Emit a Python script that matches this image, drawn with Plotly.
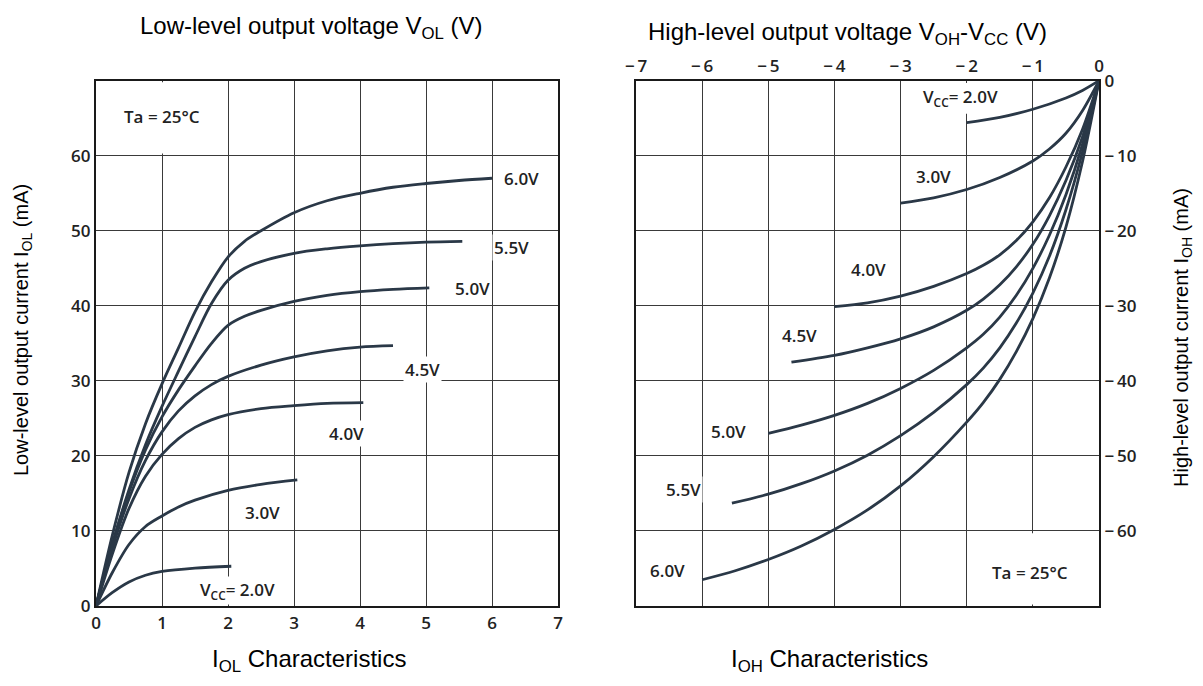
import plotly.graph_objects as go

# page has an 8px body margin, so the figure is sized to fit the 1203x686 window
FW, FH = 1203 - 16, 686 - 16
OFF = 8

# ---------------- Left chart data: I_OL vs V_OL ----------------
v60 = [0, 0.25, 0.5, 0.75, 1.0, 1.25, 1.5, 1.75, 2.0, 2.25, 2.5, 3.0, 3.5, 4.0, 4.5, 5.0, 5.5, 6.0]
i60 = [0, 9.5, 17.8, 24.3, 29.6, 34.4, 39.2, 43.2, 46.5, 48.6, 50.0, 52.4, 54, 55, 55.8, 56.3, 56.7, 57.0]
v55 = [0, 0.25, 0.5, 0.75, 1.0, 1.25, 1.5, 1.75, 2.0, 2.25, 2.5, 3.0, 3.5, 4.0, 4.5, 5.0, 5.55]
i55 = [0, 8.3, 15.5, 21.5, 26.6, 31.3, 35.9, 40.3, 43.4, 45.0, 45.9, 47.0, 47.6, 48.0, 48.3, 48.5, 48.6]
v50 = [0, 0.25, 0.5, 0.75, 1.0, 1.25, 1.5, 1.75, 2.0, 2.25, 2.5, 3.0, 3.5, 4.0, 4.5, 5.05]
i50 = [0, 8.3, 15.2, 20.8, 25.2, 28.8, 32.0, 35.0, 37.4, 38.6, 39.4, 40.6, 41.4, 41.9, 42.2, 42.4]
v45 = [0, 0.25, 0.5, 0.75, 1.0, 1.25, 1.5, 1.75, 2.0, 2.5, 3.0, 3.5, 4.0, 4.5]
i45 = [0, 7.8, 14.3, 19.4, 23.2, 26.0, 28.0, 29.5, 30.6, 32.1, 33.2, 34, 34.5, 34.7]
v40 = [0, 0.25, 0.5, 0.75, 1.0, 1.25, 1.5, 1.75, 2.0, 2.5, 3.0, 3.5, 4.05]
i40 = [0, 7, 13, 17.3, 20.2, 22.3, 23.8, 24.8, 25.5, 26.3, 26.7, 27.0, 27.1]
v30 = [0, 0.25, 0.5, 0.75, 1.0, 1.25, 1.5, 2.0, 2.5, 3.05]
i30 = [0, 4.5, 8.2, 10.6, 12.0, 13.2, 14.1, 15.4, 16.2, 16.8]
v20 = [0, 0.25, 0.5, 0.75, 1.0, 1.5, 2.05]
i20 = [0, 1.8, 3.2, 4.1, 4.6, 5.05, 5.3]

left_labels = ["6.0V", "5.5V", "5.0V", "4.5V", "4.0V", "3.0V", "V<sub>CC</sub>= 2.0V"]
left_lab_x = [6.45, 6.3, 5.7, 4.95, 3.8, 2.52, 2.15]
left_lab_y = [57, 47.8, 42.3, 31.5, 23, 12.5, 2.0]

left_xticks = [0, 1, 2, 3, 4, 5, 6, 7]
left_yticks = [0, 10, 20, 30, 40, 50, 60]

# ---------------- Right chart data: I_OH vs V_OH - V_CC ----------------
vh20 = [0, -0.25, -0.5, -1, -1.5, -2]
ih20 = [0, -1.3, -2.3, -3.8, -4.9, -5.6]
vh30 = [0, -0.25, -0.5, -0.75, -1, -1.5, -2, -2.5, -3]
ih30 = [0, -4.0, -7.0, -9.1, -10.7, -12.9, -14.5, -15.6, -16.3]
vh40 = [0, -0.25, -0.5, -0.75, -1, -1.25, -1.5, -1.75, -2, -2.5, -3, -3.5, -4]
ih40 = [0, -6.5, -11.5, -15.6, -18.8, -21.3, -23.2, -24.6, -25.7, -27.4, -28.7, -29.6, -30.1]
vh45 = [0, -0.25, -0.5, -0.75, -1, -1.25, -1.5, -1.75, -2, -2.5, -3, -3.5, -4, -4.65]
ih45 = [0, -7.5, -13.3, -18, -21.8, -24.8, -27.2, -29.1, -30.6, -32.8, -34.4, -35.6, -36.6, -37.5]
vh50 = [0, -0.25, -0.5, -0.75, -1, -1.25, -1.5, -1.75, -2, -2.5, -3, -3.5, -4, -4.5, -5.0]
ih50 = [0, -8.5, -15.2, -20.6, -25, -28.6, -31.5, -33.8, -35.6, -38.6, -41, -43, -44.6, -45.9, -47]
vh55 = [0, -0.25, -0.5, -0.75, -1, -1.25, -1.5, -1.75, -2, -2.5, -3, -3.5, -4, -4.5, -5, -5.55]
ih55 = [0, -9.5, -17.2, -23.4, -28.3, -32.3, -35.6, -38.3, -40.5, -44.2, -47.3, -49.9, -52, -53.7, -55.1, -56.3]
vh60 = [0, -0.25, -0.5, -0.75, -1, -1.25, -1.5, -1.75, -2, -2.5, -3, -3.5, -4, -4.5, -5, -5.5, -6]
ih60 = [0, -10.8, -19.5, -26.3, -31.7, -36.1, -39.8, -42.9, -45.5, -50.1, -54, -57.2, -59.8, -62, -63.8, -65.3, -66.5]

right_labels = ["V<sub>CC</sub>= 2.0V", "3.0V", "4.0V", "4.5V", "5.0V", "5.5V", "6.0V"]
right_lab_x = [-2.1, -2.5, -3.48, -4.53, -5.6, -6.28, -6.52]
right_lab_y = [-2.3, -12.7, -25.2, -33.9, -46.7, -54.5, -65.3]

right_xticks = [-7, -6, -5, -4, -3, -2, -1, 0]
right_yticks = [0, -10, -20, -30, -40, -50, -60]

# ---------------- Styling ----------------
CURVE = "#2a3847"
GRID = "#3a3a3a"
TICKFONT = dict(family="Open Sans", size=17, color="#222", weight=600)
LABFONT = dict(family="Open Sans", size=17, color="#222", weight=600)
TITLEFONT = dict(family="Liberation Sans, Arial", size=24, color="#000")
SIDEFONT = dict(family="Liberation Sans, Arial", size=20, color="#000")


def px_x(X):
    return (X - OFF) / FW


def px_y(Y):
    return 1 - (Y - OFF) / FH


fig = go.Figure()

for vx, iy in [(v60, i60), (v55, i55), (v50, i50), (v45, i45), (v40, i40), (v30, i30), (v20, i20)]:
    fig.add_trace(go.Scatter(x=vx, y=iy, mode="lines", xaxis="x", yaxis="y",
                             line=dict(color=CURVE, width=2.8, shape="spline", smoothing=0.9),
                             showlegend=False, hoverinfo="skip"))

for vx, iy in [(vh60, ih60), (vh55, ih55), (vh50, ih50), (vh45, ih45), (vh40, ih40), (vh30, ih30), (vh20, ih20)]:
    fig.add_trace(go.Scatter(x=vx, y=iy, mode="lines", xaxis="x2", yaxis="y2",
                             line=dict(color=CURVE, width=2.8, shape="spline", smoothing=0.9),
                             showlegend=False, hoverinfo="skip"))

ydom = [px_y(606), px_y(80.7)]

axis_common = dict(showgrid=True, gridcolor=GRID, gridwidth=1.3, zeroline=False,
                   showline=True, linecolor="#1a1a1a", linewidth=2.2, mirror=True,
                   ticks="", tickfont=TICKFONT, fixedrange=True, automargin=False)


def minus(v):
    return "0" if v == 0 else "\u2212\u2009" + str(abs(v))


fig.update_layout(
    width=FW, height=FH, autosize=False,
    margin=dict(l=0, r=0, t=0, b=0, pad=0),
    paper_bgcolor="white", plot_bgcolor="white",
    xaxis=dict(domain=[px_x(96), px_x(558)], range=[0, 7], anchor="y",
               tickvals=left_xticks, ticktext=[str(t) for t in left_xticks], **axis_common),
    yaxis=dict(domain=ydom, range=[0, 70], anchor="x",
               tickvals=left_yticks, ticktext=[str(t) for t in left_yticks], **axis_common),
    xaxis2=dict(domain=[px_x(636), px_x(1099)], range=[-7, 0], anchor="y2", side="top",
                tickvals=right_xticks, ticktext=[minus(t) for t in right_xticks], **axis_common),
    yaxis2=dict(domain=ydom, range=[-70, 0], anchor="x2", side="right",
                tickvals=right_yticks, ticktext=[minus(t) for t in right_yticks], **axis_common),
)

# masks hiding grid lines behind the boxed notes
fig.add_shape(type="rect", xref="x", yref="y", x0=0.04, x1=1.96, y0=60.3, y1=69.8,
              fillcolor="white", line=dict(width=0), layer="between")
fig.add_shape(type="rect", xref="x2", yref="y2", x0=-1.96, x1=-0.04, y0=-60.3, y1=-69.8,
              fillcolor="white", line=dict(width=0), layer="between")
fig.add_shape(type="rect", xref="x2", yref="y2", x0=-2.08, x1=-1.92, y0=-0.3, y1=-4.4,
              fillcolor="white", line=dict(width=0), layer="between")

for t, x, y in zip(left_labels, left_lab_x, left_lab_y):
    fig.add_annotation(x=x, y=y, xref="x", yref="y", text=t, showarrow=False,
                       xanchor="center", yanchor="middle",
                       font=LABFONT, bgcolor="white", borderpad=1)
for t, x, y in zip(right_labels, right_lab_x, right_lab_y):
    fig.add_annotation(x=x, y=y, xref="x2", yref="y2", text=t, showarrow=False,
                       xanchor="center", yanchor="middle",
                       font=LABFONT, bgcolor="white", borderpad=1)

fig.add_annotation(x=1.0, y=65.2, xref="x", yref="y", text="Ta = 25°C", showarrow=False,
                   xanchor="center", yanchor="middle", font=LABFONT)
fig.add_annotation(x=-1.05, y=-65.6, xref="x2", yref="y2", text="Ta = 25°C", showarrow=False,
                   xanchor="center", yanchor="middle", font=LABFONT)

# titles and captions (positions in window pixels)
texts = [
    ("Low-level output voltage V<sub>OL</sub> (V)", 312, 27, 0, TITLEFONT),
    ("High-level output voltage V<sub>OH</sub>-V<sub>CC</sub> (V)", 847, 34, 0, TITLEFONT),
    ("I<sub>OL</sub> Characteristics", 309, 660, 0, TITLEFONT),
    ("I<sub>OH</sub> Characteristics", 829, 660, 0, TITLEFONT),
    ("Low-level output current I<sub>OL</sub> (mA)", 22, 330, -90, SIDEFONT),
    ("High-level output current I<sub>OH</sub> (mA)", 1182, 338, -90, SIDEFONT),
]
for t, X, Y, ang, f in texts:
    fig.add_annotation(x=px_x(X), y=px_y(Y), xref="paper", yref="paper", showarrow=False,
                       xanchor="center", yanchor="middle", textangle=ang, text=t, font=f)

fig.write_html("out.html")
